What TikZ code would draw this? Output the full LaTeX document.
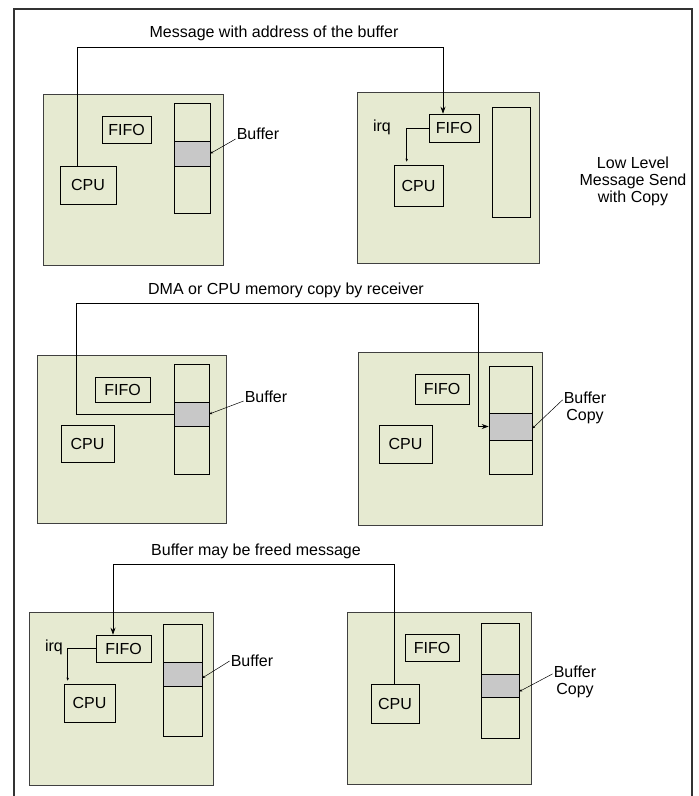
\documentclass[tikz,border=0pt]{standalone}
\usepackage{fontspec}
\setmainfont{Liberation Sans}
\usetikzlibrary{arrows.meta}
\definecolor{boardfill}{HTML}{E6EAD1}
\definecolor{bufgray}{HTML}{C8C8C8}
\begin{document}
\begin{tikzpicture}[x=1pt,y=-1pt,
    font=\fontsize{16}{17}\selectfont,
    board/.style={draw=black!75,fill=boardfill,line width=0.9pt,inner sep=0pt},
    part/.style={draw,line width=0.6pt,inner sep=0pt},
    bufcol/.style={draw,line width=0.6pt,inner sep=0pt},
    bufseg/.style={draw,fill=bufgray,line width=0.6pt,inner sep=0pt},
    msg/.style={line width=0.7pt,-{Stealth[length=7pt,width=5pt]}},
    tick/.style={line width=0.5pt,-{Stealth[length=3pt,width=2.5pt]}},
    lbl/.style={inner sep=1pt,align=center}]
    \useasboundingbox (0,0) rectangle (699,796);
    \draw[black!80,line width=1.2pt] (14,796) -- (14,9) -- (692,9) -- (692,796);

    \node[board,minimum width=180,minimum height=171] (boardA) at (133,179.5) {};
    \node[board,minimum width=182,minimum height=171] (boardB) at (448,177.5) {};
    \node[board,minimum width=189,minimum height=168] (boardC) at (131.5,439) {};
    \node[board,minimum width=184,minimum height=173] (boardD) at (450,438.5) {};
    \node[board,minimum width=184,minimum height=173] (boardE) at (121,698.5) {};
    \node[board,minimum width=184,minimum height=172] (boardF) at (439,698) {};

    \node[part,minimum width=49,minimum height=27] (fifoA) at (126.5,129.5) {FIFO};
    \node[part,minimum width=56,minimum height=38] (cpuA) at (88,185) {CPU};
    \node[bufcol,minimum width=36,minimum height=110] (colA) at (192,158) {};
    \node[bufseg,minimum width=36,minimum height=25] (segA) at (192,153.5) {};
    \node[lbl] (lblA) at (258,134) {Buffer};

    \node[part,minimum width=50,minimum height=28] (fifoB) at (454,128) {FIFO};
    \node[part,minimum width=49,minimum height=41] (cpuB) at (418.5,185.5) {CPU};
    \node[bufcol,minimum width=38,minimum height=110] (colB) at (511,162) {};
    \node[lbl] (irqB) at (382,127) {irq};

    \node[part,minimum width=55,minimum height=25] (fifoC) at (122.5,389.5) {FIFO};
    \node[part,minimum width=53,minimum height=37] (cpuC) at (87.5,443.5) {CPU};
    \node[bufcol,minimum width=35,minimum height=110] (colC) at (191.5,419) {};
    \node[bufseg,minimum width=35,minimum height=24] (segC) at (191.5,414) {};
    \node[lbl] (lblC) at (266,397) {Buffer};

    \node[part,minimum width=54,minimum height=30] (fifoD) at (442,389) {FIFO};
    \node[part,minimum width=53,minimum height=38] (cpuD) at (405.5,444) {CPU};
    \node[bufcol,minimum width=43,minimum height=108] (colD) at (510.5,420) {};
    \node[bufseg,minimum width=43,minimum height=27] (segD) at (510.5,426.5) {};
    \node[lbl] (lblD) at (585,408) {Buffer\\Copy};

    \node[part,minimum width=55,minimum height=27] (fifoE) at (123.5,648.5) {FIFO};
    \node[part,minimum width=51,minimum height=38] (cpuE) at (89.5,703) {CPU};
    \node[bufcol,minimum width=39,minimum height=112] (colE) at (182.5,680) {};
    \node[bufseg,minimum width=39,minimum height=24] (segE) at (182.5,674) {};
    \node[lbl] (lblE) at (252,661) {Buffer};
    \node[lbl] (irqE) at (54,647) {irq};

    \node[part,minimum width=54,minimum height=27] (fifoF) at (432,647.5) {FIFO};
    \node[part,minimum width=48,minimum height=39] (cpuF) at (395,703.5) {CPU};
    \node[bufcol,minimum width=38,minimum height=115] (colF) at (500,680.5) {};
    \node[bufseg,minimum width=38,minimum height=23] (segF) at (500,685.5) {};
    \node[lbl] (lblF) at (575,682) {Buffer\\Copy};

    \node[lbl] (stepA) at (274,33) {Message with address of the buffer};
    \node[lbl] (stepB) at (286,290) {DMA or CPU memory copy by receiver};
    \node[lbl] (stepC) at (256,551) {Buffer may be freed message};
    \node[lbl] (title) at (633,181) {Low Level\\Message Send\\with Copy};

    \coordinate (m1a) at (77,47);
    \coordinate (m1b) at (443,47);
    \coordinate (m2a) at (76,303);
    \coordinate (m2b) at (478,303);
    \coordinate (m3a) at (394,564);
    \coordinate (m3b) at (113,564);

    \draw[msg] (cpuA.north -| m1a) -- (m1a) -- (m1b) -- (fifoB.north -| m1b);
    \draw[msg] (segC.west) -| (m2a) -- (m2b) |- (segD.west);
    \draw[msg] (cpuF.north -| m3a) -- (m3a) -- (m3b) -- (fifoE.north -| m3b);

    \draw[tick,shorten >=3pt] (fifoB.west) -| ([xshift=13pt]cpuB.north west);
    \draw[tick,shorten >=3pt] (fifoE.west) -| ([xshift=4pt]cpuE.north west);

    \draw[tick] ([yshift=-5pt]lblA.west) -- (segA.east);
    \draw[tick] ([yshift=-4pt]lblC.west) -- (segC.east);
    \draw[tick] ([yshift=-9pt]lblD.north west) -- ([yshift=-2pt]segD.east);
    \draw[tick] (lblE.west) -- ([yshift=-4pt]segE.east);
    \draw[tick] ([yshift=-9pt]lblF.north west) -- ([yshift=-6pt]segF.east);
\end{tikzpicture}
\end{document}
